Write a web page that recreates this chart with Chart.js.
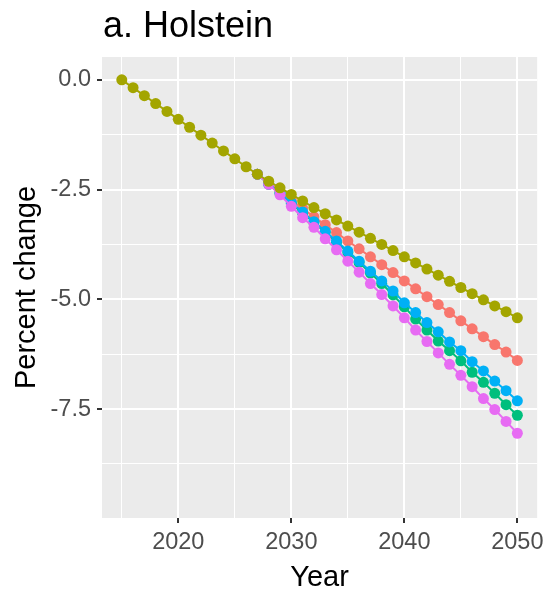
<!DOCTYPE html>
<html lang="en">
<head>
  <meta charset="UTF-8" />
  <title>a. Holstein</title>
  <script src="https://cdn.jsdelivr.net/npm/chart.js"></script>
  <style>
    body {
      margin: 0;
      background: #ffffff;
    }
    canvas {
      display: block;
    }
  </style>
</head>
<body>
  <canvas id="chart" width="549" height="596"></canvas>

  <script>
    const years = [2015, 2016, 2017, 2018, 2019, 2020, 2021, 2022, 2023, 2024, 2025, 2026,
                   2027, 2028, 2029, 2030, 2031, 2032, 2033, 2034, 2035, 2036, 2037, 2038,
                   2039, 2040, 2041, 2042, 2043, 2044, 2045, 2046, 2047, 2048, 2049, 2050];

    const olive = [0, -0.18, -0.36, -0.54, -0.72, -0.90, -1.08, -1.26, -1.44, -1.62, -1.80, -1.98,
                   -2.15, -2.31, -2.46, -2.61, -2.76, -2.91, -3.05, -3.19, -3.33, -3.47, -3.61, -3.75,
                   -3.89, -4.03, -4.17, -4.31, -4.45, -4.59, -4.73, -4.87, -5.01, -5.15, -5.28, -5.42];
    const red = [null, null, null, null, null, null, null, null, null, null, null, null,
                 -2.15, -2.35, -2.54, -2.74, -2.93, -3.12, -3.30, -3.48, -3.67, -3.85, -4.03, -4.21,
                 -4.39, -4.58, -4.76, -4.94, -5.12, -5.30, -5.49, -5.67, -5.85, -6.03, -6.20, -6.39];
    const green = [null, null, null, null, null, null, null, null, null, null, null, null,
                   -2.15, -2.38, -2.59, -2.82, -3.03, -3.25, -3.47, -3.70, -3.93, -4.16, -4.40, -4.64,
                   -4.90, -5.17, -5.45, -5.70, -5.95, -6.17, -6.40, -6.66, -6.89, -7.14, -7.40, -7.64];
    const blue = [null, null, null, null, null, null, null, null, null, null, null, null,
                  -2.15, -2.37, -2.58, -2.80, -3.01, -3.23, -3.45, -3.67, -3.90, -4.13, -4.36, -4.58,
                  -4.81, -5.08, -5.30, -5.53, -5.74, -5.97, -6.17, -6.42, -6.63, -6.86, -7.08, -7.31];
    const pink = [null, null, null, null, null, null, null, null, null, null, null, null,
                  -2.15, -2.38, -2.62, -2.88, -3.14, -3.36, -3.62, -3.87, -4.13, -4.38, -4.64, -4.89,
                  -5.15, -5.42, -5.70, -5.96, -6.22, -6.48, -6.73, -6.99, -7.26, -7.51, -7.78, -8.05];

    const xTicks = [2020, 2030, 2040, 2050];
    const xMinor = [2015, 2025, 2035, 2045];
    const yTicks = [0, -2.5, -5, -7.5];
    const yMinor = [-1.25, -3.75, -6.25, -8.75];

    const FONT = '"Liberation Sans", Arial, sans-serif';

    function toPoints(vals) {
      return years.map((yr, i) => ({ x: yr, y: vals[i] }));
    }

    function series(vals, colour) {
      return {
        data: toPoints(vals),
        borderColor: colour,
        backgroundColor: colour,
        borderWidth: 2,
        pointRadius: 5.5,
        pointBorderWidth: 0,
        pointHoverRadius: 5.5,
      };
    }

    // grey ggplot panel behind the grid, title on top
    const panel = {
      id: "panel",
      beforeDraw(chart) {
        const { ctx, chartArea: a } = chart;
        ctx.save();
        ctx.fillStyle = "#EBEBEB";
        ctx.fillRect(a.left, a.top, a.right - a.left, a.bottom - a.top);
        ctx.restore();
      },
      afterDraw(chart) {
        const ctx = chart.ctx;
        ctx.save();
        ctx.fillStyle = "#000000";
        ctx.font = "36px " + FONT;
        ctx.textBaseline = "alphabetic";
        ctx.fillText("a. Holstein", 103, 37);
        ctx.restore();
      },
    };

    function gridFor(majors) {
      return {
        color: "#FFFFFF",
        lineWidth: (c) => (majors.includes(c.tick.value) ? 2 : 1),
        tickColor: (c) => (majors.includes(c.tick.value) ? "#333333" : "rgba(0,0,0,0)"),
        tickLength: 5,
        tickWidth: 2,
        drawTicks: true,
      };
    }

    new Chart(document.getElementById("chart"), {
      type: "line",
      data: {
        datasets: [
          series(olive, "#A3A500"),
          series(pink, "#E76BF3"),
          series(blue, "#00B0F6"),
          series(green, "#00BF7D"),
          series(red, "#F8766D"),
        ],
      },
      options: {
        responsive: false,
        animation: false,
        events: [],
        layout: { padding: { top: 57, right: 11, left: 0, bottom: 0 } },
        plugins: {
          legend: { display: false },
          title: { display: false },
          tooltip: { enabled: false },
        },
        scales: {
          x: {
            type: "linear",
            min: 2013.25,
            max: 2051.75,
            afterBuildTicks: (s) => {
              s.ticks = xTicks.concat(xMinor).sort((a, b) => a - b).map((v) => ({ value: v }));
            },
            afterFit: (s) => { s.height = 78; },
            border: { display: false },
            grid: gridFor(xTicks),
            ticks: {
              autoSkip: false,
              maxRotation: 0,
              padding: 5,
              color: "#4D4D4D",
              font: { family: FONT, size: 23.5 },
              callback: (v) => (xTicks.includes(v) ? String(v) : ""),
            },
            title: {
              display: true,
              text: "Year",
              color: "#000000",
              font: { family: FONT, size: 29 },
              padding: { top: 0, bottom: 1 },
            },
          },
          y: {
            min: -9.98,
            max: 0.52,
            afterBuildTicks: (s) => {
              s.ticks = yTicks.concat(yMinor).sort((a, b) => a - b).map((v) => ({ value: v }));
            },
            afterFit: (s) => { s.width = 102; },
            border: { display: false },
            grid: gridFor(yTicks),
            ticks: {
              autoSkip: false,
              padding: 6,
              color: "#4D4D4D",
              font: { family: FONT, size: 23.5 },
              callback: (v) => (yTicks.includes(v) ? v.toFixed(1) : ""),
            },
            title: {
              display: true,
              text: "Percent change",
              color: "#000000",
              font: { family: FONT, size: 29 },
              padding: { top: 10, bottom: 0 },
            },
          },
        },
      },
      plugins: [panel],
    });
  </script>
</body>
</html>
